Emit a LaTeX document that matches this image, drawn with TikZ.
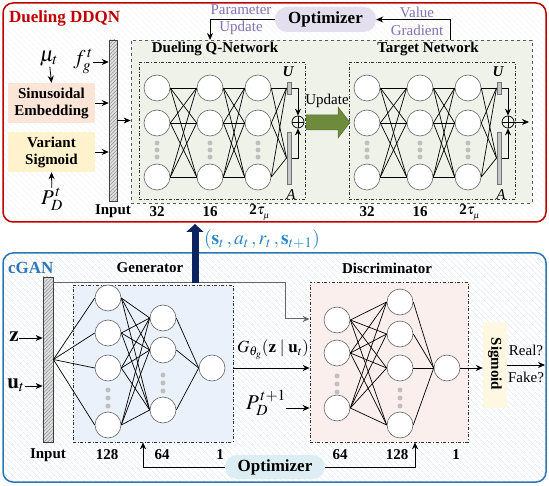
\documentclass[tikz,border=0pt]{standalone}
\usepackage{mathptmx}
\usepackage{fontspec}
\setmainfont{Liberation Serif}
\usetikzlibrary{arrows.meta,patterns,patterns.meta,calc}
\definecolor{dred}{HTML}{C00000}
\definecolor{cblue}{HTML}{2E75B6}
\definecolor{tblue}{HTML}{2E86C8}
\definecolor{navyb}{HTML}{0B2461}
\definecolor{pinkf}{HTML}{FBE5D6}
\definecolor{yelf}{HTML}{FFF2CC}
\definecolor{qfill}{HTML}{EFF2E8}
\definecolor{optp}{HTML}{E3DFEE}
\definecolor{purt}{HTML}{8470B4}
\definecolor{greenA}{HTML}{6E8B3D}
\definecolor{genf}{HTML}{EAF1FB}
\definecolor{disf}{HTML}{FBEFED}
\definecolor{sigf}{HTML}{FEF8E3}
\definecolor{optc}{HTML}{DCEEF3}
\definecolor{hatchb}{HTML}{D5E3F1}
\definecolor{hatchg}{HTML}{F0F0F0}
\begin{document}
\begin{tikzpicture}[x=1pt,y=-1pt,
  every node/.style={inner sep=1pt, font=\fontsize{15}{17}\selectfont},
  bt/.style={font=\fontsize{15}{17}\selectfont\bfseries},
  mt/.style={font=\fontsize{19.5}{21}\selectfont},
  mbig/.style={font=\fontsize{21}{23}\selectfont,inner sep=0pt},
  neuron/.style={circle,draw=black!60,fill=white,minimum size=26pt,inner sep=0pt,line width=0.6pt},
  dotg/.style={circle,fill=black!25,inner sep=0pt,minimum size=5pt},
  conn/.style={line width=0.7pt,draw=black},
  arr/.style={line width=0.8pt,draw=black,-{Stealth[length=7pt,width=6pt]}},
  hbar/.style={rectangle,draw=black!75,line width=0.8pt,inner sep=0pt,preaction={fill=black!12},pattern={Lines[angle=45,distance=2.5pt,line width=0.5pt]},pattern color=black!45},
  gbar/.style={rectangle,draw=black!55,fill=black!22,inner sep=0pt,minimum width=4.5pt,line width=0.5pt},
  pillbox/.style={rectangle,rounded corners=12pt,inner sep=0pt,minimum width=101pt,minimum height=25pt,font=\fontsize{17}{19}\selectfont\bfseries},
  colbox/.style={rectangle,inner sep=0pt,minimum width=87pt,minimum height=40pt,align=center,font=\fontsize{15}{17}\selectfont\bfseries}
]
\useasboundingbox (0,0) rectangle (549,486);

% ---------- frames ----------
\fill[white] (0,0) rectangle (549,486);
\fill[white,rounded corners=10pt] (3,3) rectangle (546,222);
\fill[rounded corners=10pt,pattern={Lines[angle=-45,distance=4pt,line width=0.5pt]},pattern color=hatchg] (3,3) rectangle (546,222);
\draw[draw=dred,line width=1.5pt,rounded corners=10pt] (3,3) rectangle (546,222);
\fill[white,rounded corners=10pt] (3,253) rectangle (546,482);
\fill[rounded corners=10pt,pattern={Lines[angle=-45,distance=4pt,line width=0.5pt]},pattern color=hatchb] (3,253) rectangle (546,482);
\draw[draw=cblue,line width=1.5pt,rounded corners=10pt] (3,253) rectangle (546,482);

% ---------- Dueling DDQN ----------
\node[font=\fontsize{17}{19}\selectfont\bfseries,text=dred,anchor=west] (t1) at (8,18) {Dueling DDQN};

\node[mbig] (mu) at (49,59) {$\mu_t$};
\node[colbox,fill=pinkf] (sin) at (51.5,103) {Sinusoidal\\Embedding};
\node[colbox,fill=yelf] (vs) at (51.5,152) {Variant\\Sigmoid};
\node[mbig] (pdt) at (52,199) {$P_D^{\,t}$};
\node[mbig] (fg) at (83,61) {$f_g^{\,t}$};
\node[hbar,minimum width=8pt,minimum height=161pt] (bar1) at (113,120.5) {};
\node[bt] (in1) at (113,211) {Input};

\draw[arr] (mu) -- (sin.north);
\draw[arr] (pdt) -- (vs.south);
\draw[arr] (fg.east |- 0,62) -- (bar1.west |- 0,62);
\draw[arr] (sin.east) -- (sin.east -| bar1.west);
\draw[arr] (vs.east) -- (vs.east -| bar1.west);

% outer dashed box
\node[rectangle,draw=black!65,dashed,line width=0.8pt,fill=qfill,minimum width=401pt,minimum height=163pt,inner sep=0pt] (qbox) at (331.5,121.5) {};
\draw[arr] (bar1.east) -- (bar1.east -| qbox.west);

\node[bt] (qn) at (215,49) {Dueling Q-Network};
\node[bt] (tn) at (428,49) {Target Network};

\node[rectangle,draw=black!80,dash dot,line width=0.7pt,minimum width=166pt,minimum height=137pt,inner sep=0pt] (inL) at (222,130.5) {};
\node[rectangle,draw=black!80,dash dot,line width=0.7pt,minimum width=166pt,minimum height=137pt,inner sep=0pt] (inR) at (432,130.5) {};

\foreach \net/\dx in {a/0,b/210}{
  \foreach \l/\x in {1/157,2/210,3/258}{
    \foreach \r/\y in {1/88,2/123,3/177}
      \node[neuron] (\net\l\r) at (\x+\dx,\y) {};
    \foreach \y in {143,150,157}
      \node[dotg] at (\x+\dx,\y) {};
  }
  \foreach \i in {1,2,3}{
    \foreach \j in {1,2,3}{
      \draw[conn] (\net1\i.east) -- (\net2\j.west);
      \draw[conn] (\net2\i.east) -- (\net3\j.west);
    }
  }
  \node[gbar,minimum height=12pt] (\net-U) at (289+\dx,88) {};
  \node[gbar,minimum height=52pt] (\net-A) at (289+\dx,158) {};
  \foreach \i in {1,2,3}{
    \draw[conn] (\net3\i.east) -- (\net-U.west);
    \draw[conn] (\net3\i.east) -- (\net-A.west);
  }
  \node[font=\fontsize{15}{17}\selectfont\bfseries\itshape,inner sep=0pt] at (288+\dx,72) {U};
  \node[font=\fontsize{15}{17}\selectfont\itshape,inner sep=0pt] at (291+\dx,195) {A};
  \node[circle,draw=black,line width=0.7pt,minimum size=12pt,inner sep=0pt] (\net-P) at (298+\dx,122) {};
  \draw[line width=0.7pt] (\net-P.north) -- (\net-P.south) (\net-P.west) -- (\net-P.east);
  \draw[arr] (\net-U.east) -| (\net-P.north);
  \draw[arr] (\net-A.east) -| (\net-P.south);
}
\coordinate (qout) at (529,122);
\draw[arr] (b-P.east) -- (qout);

% layer sizes
\foreach \dx in {0,210}{
  \node[bt,inner sep=0pt] at (157+\dx,212) {32};
  \node[bt,inner sep=0pt] at (210+\dx,212) {16};
  \node[bt,inner sep=0pt] at (260+\dx,213) {2$\tau_{_\mu}$};
}

% green update arrow
\fill[greenA,draw=greenA!80!black,line width=0.5pt] (306,115) -- (338,115) -- (338,107) -- (350,122.5) -- (338,138) -- (338,130) -- (306,130) -- cycle;
\node (upd) at (327,101) {Update};

% optimizer top
\node[pillbox,fill=optp] (opt1) at (325.5,19.5) {Optimizer};
\coordinate (pu) at (210,40);
\coordinate (vg) at (450,40);
\draw[arr] (opt1.west) -| (pu);
\draw[arr] (vg) |- (opt1.east);
\node[text=purt] at (241,10) {Parameter};
\node[text=purt] at (241,28) {Update};
\node[text=purt] at (417,12) {Value};
\node[text=purt] at (417,30) {Gradient};

% ---------- cGAN ----------
\node[font=\fontsize{17}{19}\selectfont\bfseries,text=cblue,anchor=west] (t2) at (7,268) {cGAN};
\node[bt] at (150,268) {Generator};
\node[bt] at (387,268) {Discriminator};

\node[hbar,minimum width=10pt,minimum height=165pt] (bar2) at (48,359.5) {};
\node[bt] at (48,455) {Input};
\node[mbig] (z) at (14,337) {$\mathbf{z}$};
\node[mbig] (u) at (16,385) {$\mathbf{u}_t$};
\draw[arr] (z.east |- 0,338) -- (bar2.west |- 0,338);
\draw[arr] (u.east |- 0,386) -- (bar2.west |- 0,386);

\node[rectangle,draw=black!80,dash dot,line width=0.7pt,fill=genf,minimum width=160pt,minimum height=157pt,inner sep=0pt] (gbox) at (153,363.5) {};
\node[rectangle,draw=black!80,dash dot,line width=0.7pt,fill=disf,minimum width=158pt,minimum height=160pt,inner sep=0pt] (dbox) at (389,362) {};

% gray link from input to discriminator
\coordinate (gl) at (285,283);
\draw[arr,draw=black!60,line width=1pt] (bar2.east |- gl) -- (gl) |- ($(dbox.west)+(0,-43)$);

% generator neurons
\foreach \r/\y in {1/298,2/333,3/368,4/425} \node[neuron] (g1\r) at (108,\y) {};
\foreach \y in {390,398,406} \node[dotg] at (108,\y) {};
\foreach \r/\y in {1/318,2/350,3/410} \node[neuron] (g2\r) at (163,\y) {};
\foreach \y in {375,383,391} \node[dotg] at (163,\y) {};
\node[neuron] (g31) at (212,368) {};
\foreach \i in {1,2,3,4}{
  \draw[conn] (bar2.east) -- (g1\i.west);
  \foreach \j in {1,2,3} \draw[conn] (g1\i.east) -- (g2\j.west);
}
\foreach \j in {1,2,3} \draw[conn] (g2\j.east) -- (g31.west);

% discriminator neurons
\foreach \r/\y in {1/320,2/353,3/408} \node[neuron] (d1\r) at (337,\y) {};
\foreach \y in {376,384,392} \node[dotg] at (337,\y) {};
\foreach \r/\y in {1/302,2/334,3/368,4/425} \node[neuron] (d2\r) at (400,\y) {};
\foreach \y in {390,398,406} \node[dotg] at (400,\y) {};
\node[neuron] (d31) at (447,368) {};
\foreach \i in {1,2,3}{
  \foreach \j in {1,2,3,4} \draw[conn] (d1\i.east) -- (d2\j.west);
}
\foreach \j in {1,2,3,4} \draw[conn] (d2\j.east) -- (d31.west);

% generator output
\draw[arr] (g31 -| gbox.east) -- (g31 -| dbox.west);
\node[font=\fontsize{17}{19}\selectfont,inner sep=0pt] at (273,350) {$G_{\theta_g}(\mathbf{z}\mid\mathbf{u}_t)$};
\node[mbig] (pd1) at (266,403) {$P_D^{\,t+1}$};
\draw[arr] (pd1.east |- 0,408) -- (dbox.west |- 0,408);

% sigmoid
\node[rectangle,fill=sigf,minimum width=24pt,minimum height=85pt,inner sep=0pt] (sig) at (495,365) {};
\node[bt,rotate=-90] at (495,364) {Sigmoid};
\draw[arr] (d31.east) -- (d31.east -| sig.west);
\coordinate (ro) at (545,365);
\draw[arr] (sig.east) -- (ro);
\node at (526,350) {Real?};
\node at (526,377) {Fake?};

% layer sizes bottom
\node[bt] at (107,455) {128};
\node[bt] at (162,455) {64};
\node[bt] at (220,455) {1};
\node[bt] at (340,455) {64};
\node[bt] at (397,455) {128};
\node[bt] at (456,455) {1};

% optimizer bottom
\node[pillbox,fill=optc,minimum width=100pt,minimum height=24pt] (opt2) at (275,467) {Optimizer};
\draw[arr] (opt2.west) -| ($(gbox.south)+(-10,0)$);
\draw[arr] (opt2.east) -| ($(dbox.south)+(26,0)$);

% transition tuple arrow
\coordinate (nav1) at (195,283);
\coordinate (nav2) at (195,224);
\draw[navyb,line width=7pt,-{Triangle[length=8pt,width=17pt]}] (nav1) -- (nav2);
\node[mt,text=tblue] at (262,240) {$(\mathbf{s}_t\,,a_t\,,r_t\,,\mathbf{s}_{t+1})$};
\end{tikzpicture}
\end{document}
